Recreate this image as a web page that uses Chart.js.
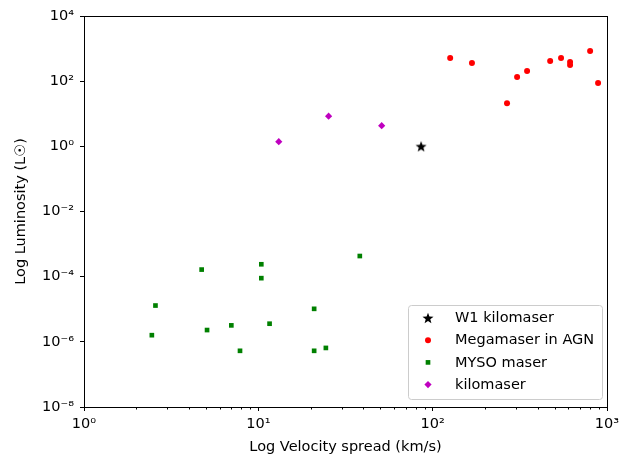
<!DOCTYPE html>
<html lang="en">
<head>
  <meta charset="UTF-8">
  <title>Maser luminosity vs velocity spread</title>
  <style type="text/css">
    body, html {
      margin: 0;
      padding: 0;
      background-color: #fff;
    }
    #wrap {
      width: 619px;
      height: 459px;
    }
  </style>
  <script src="https://cdn.jsdelivr.net/npm/chart.js"></script>
</head>
<body>
  <div id="wrap"><canvas id="chart" width="619" height="459"></canvas></div>

  <script>
    // W1 kilomaser
    const w1X = [85.8];
    const w1Y = [1.0];

    // Megamaser in AGN
    const agnX = [126, 168, 267, 305, 348, 472, 545, 614, 614, 800, 889];
    const agnY = [515, 361, 21, 135, 205, 417, 515, 388, 314, 844, 88];

    // MYSO maser
    const mysoX = [4.73, 10.4, 10.4, 38.2, 2.57, 20.9, 11.6, 7.0, 5.08, 2.45, 7.85, 20.9, 24.4];
    const mysoY = [1.65e-4, 2.4e-4, 9e-5, 4.3e-4, 1.3e-5, 1.03e-5, 3.6e-6, 3.2e-6, 2.3e-6, 1.6e-6, 5.3e-7, 5.3e-7, 6.5e-7];

    // kilomaser
    const kiloX = [13.1, 25.3, 51];
    const kiloY = [1.39, 8.4, 4.3];

    const xTicks = [1, 10, 100, 1000];
    const yTicks = [1e-8, 1e-6, 1e-4, 1e-2, 1, 1e2, 1e4];

    const FONT = "'DejaVu Sans', sans-serif";
    const FS = 14.5;
    const sup = {'-': '\u207B', '0': '\u2070', '1': '\u00B9', '2': '\u00B2', '3': '\u00B3',
                 '4': '\u2074', '5': '\u2075', '6': '\u2076', '7': '\u2077', '8': '\u2078', '9': '\u2079'};
    function powLabel(v) {
      const e = String(Math.round(Math.log10(v)));
      return '10' + e.split('').map(c => sup[c]).join('');
    }

    function pts(xs, ys) {
      return xs.map((x, i) => ({x: x, y: ys[i]}));
    }

    // filled five point star for the W1 marker
    const star = document.createElement('canvas');
    star.width = 12; star.height = 12;
    (function() {
      const c = star.getContext('2d');
      c.fillStyle = '#000';
      c.beginPath();
      for (let i = 0; i < 10; i++) {
        const r = i % 2 === 0 ? 5.8 : 2.4;
        const a = -Math.PI / 2 + i * Math.PI / 5;
        const px = 6 + r * Math.cos(a), py = 6.5 + r * Math.sin(a);
        if (i === 0) c.moveTo(px, py); else c.lineTo(px, py);
      }
      c.closePath();
      c.fill();
    })();

    // frame, minor ticks and the in-plot legend
    const framePlugin = {
      id: 'frame',
      afterDraw(chart) {
        const ctx = chart.ctx;
        const a = chart.chartArea;
        const xs = chart.scales.x;
        ctx.save();
        ctx.strokeStyle = '#000';
        ctx.lineWidth = 1;
        ctx.strokeRect(Math.round(a.left) + 0.5, Math.round(a.top) + 0.5,
                       Math.round(a.right - a.left), Math.round(a.bottom - a.top));
        ctx.beginPath();
        for (let d = 1; d < 1000; d *= 10) {
          for (let k = 2; k <= 9; k++) {
            const px = Math.round(xs.getPixelForValue(d * k)) + 0.5;
            ctx.moveTo(px, Math.round(a.bottom));
            ctx.lineTo(px, Math.round(a.bottom) + 2.5);
          }
        }
        ctx.stroke();

        // legend
        const bx = 408.5, by = 305.5, bw = 194, bh = 94;
        ctx.fillStyle = 'rgba(255,255,255,0.8)';
        ctx.strokeStyle = '#cccccc';
        ctx.beginPath();
        ctx.roundRect(bx, by, bw, bh, 3);
        ctx.fill();
        ctx.stroke();
        ctx.font = FS + 'px ' + FONT;
        ctx.textBaseline = 'middle';
        chart.data.datasets.forEach((ds, i) => {
          const ry = 318 + i * 22.2;
          ctx.fillStyle = ds.backgroundColor;
          ctx.strokeStyle = ds.backgroundColor;
          Chart.helpers.drawPoint(ctx, {
            pointStyle: ds.pointStyle,
            radius: ds.pointRadius,
            rotation: 0,
            borderWidth: 0
          }, 428, ry);
          ctx.fillStyle = '#000';
          ctx.fillText(ds.label, 455, ry + 0.5);
        });
        ctx.restore();
      }
    };

    const ctx = document.getElementById('chart').getContext('2d');
    new Chart(ctx, {
      type: 'scatter',
      data: {
        datasets: [
          { label: 'W1 kilomaser', data: pts(w1X, w1Y), pointStyle: star,
            backgroundColor: '#000', borderWidth: 0, pointRadius: 5 },
          { label: 'Megamaser in AGN', data: pts(agnX, agnY), pointStyle: 'circle',
            backgroundColor: '#ff0000', borderColor: '#ff0000', borderWidth: 0, pointRadius: 3 },
          { label: 'MYSO maser', data: pts(mysoX, mysoY), pointStyle: 'rect',
            backgroundColor: '#008000', borderColor: '#008000', borderWidth: 0, pointRadius: 3.3 },
          { label: 'kilomaser', data: pts(kiloX, kiloY), pointStyle: 'rectRot',
            backgroundColor: '#bf00bf', borderColor: '#bf00bf', borderWidth: 0, pointRadius: 3.6 }
        ]
      },
      options: {
        responsive: false,
        animation: false,
        layout: { padding: { top: 16, right: 12, left: 13, bottom: 3 } },
        plugins: {
          legend: { display: false },
          tooltip: { enabled: false }
        },
        scales: {
          x: {
            type: 'logarithmic',
            min: 1,
            max: 1000,
            afterBuildTicks: s => { s.ticks = xTicks.map(v => ({value: v})); },
            afterFit: s => { s.height = 49; s.paddingLeft = 0; s.paddingRight = 0; },
            grid: { drawOnChartArea: false, tickLength: 4, color: '#000' },
            border: { display: false },
            ticks: { callback: v => powLabel(v), color: '#000', padding: 5,
                     maxRotation: 0, autoSkip: false, font: { family: FONT, size: FS } },
            title: { display: true, text: 'Log Velocity spread (km/s)', color: '#000',
                     padding: { top: 1, bottom: 0 }, font: { family: FONT, size: FS } }
          },
          y: {
            type: 'logarithmic',
            min: 1e-8,
            max: 1e4,
            afterBuildTicks: s => { s.ticks = yTicks.map(v => ({value: v})); },
            afterFit: s => { s.width = 71; s.paddingTop = 0; s.paddingBottom = 0; },
            grid: { drawOnChartArea: false, tickLength: 4, color: '#000' },
            border: { display: false },
            ticks: { callback: v => powLabel(v), color: '#000', padding: 6,
                     autoSkip: false, font: { family: FONT, size: FS } },
            title: { display: true, text: 'Log Luminosity (L\u2609)', color: '#000',
                     padding: { top: 0, bottom: 4 }, font: { family: FONT, size: FS } }
          }
        }
      },
      plugins: [framePlugin]
    });
  </script>
</body>
</html>
